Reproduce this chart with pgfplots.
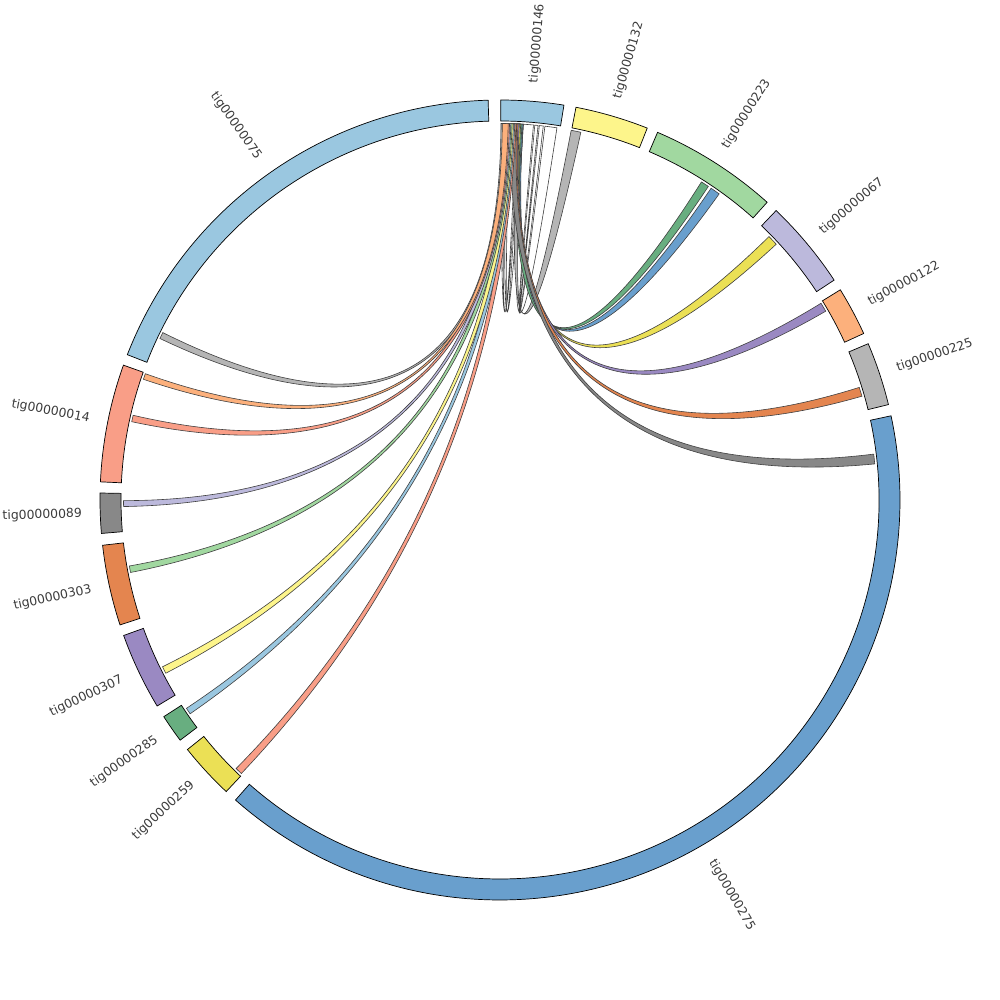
\documentclass[border=0pt]{standalone}
\usepackage{pgfplots}
\pgfplotsset{compat=1.18}
\usepackage{fontspec}
\newfontfamily\labfont{DejaVu Sans}

\definecolor{lblue}{HTML}{9AC7E0}
\definecolor{pyellow}{HTML}{FDF58B}
\definecolor{lgreen}{HTML}{A1D8A0}
\definecolor{lav}{HTML}{BCB9DC}
\definecolor{lorange}{HTML}{FCB07C}
\definecolor{lgray}{HTML}{B5B5B5}
\definecolor{sblue}{HTML}{699FCD}
\definecolor{mustard}{HTML}{EBE055}
\definecolor{mgreen}{HTML}{68AE80}
\definecolor{purp}{HTML}{9A89C2}
\definecolor{dorange}{HTML}{E4854F}
\definecolor{dgray}{HTML}{888888}
\definecolor{salmon}{HTML}{F99E87}
\definecolor{labgray}{HTML}{3C3C3C}

% ring segment: start angle, end angle, colour
\newcommand{\seg}[3]{%
 \filldraw[fill=#3, draw=black, line width=0.35pt]
 (axis cs:{400*cos(#1)},{400*sin(#1)}) arc[start angle=#1, end angle=#2, radius=200pt]
 -- (axis cs:{379*cos(#2)},{379*sin(#2)}) arc[start angle=#2, end angle=#1, radius=189.5pt] -- cycle;}

% ribbon: source lo, source hi, target lo, target hi, colour
\newcommand{\chord}[5]{%
 \filldraw[fill=#5, draw=black!75, line width=0.3pt]
 (axis cs:{376.5*cos(#1)},{376.5*sin(#1)}) arc[start angle=#1, end angle=#2, radius=188.25pt]
 .. controls (axis cs:{125.5*cos(#2)},{125.5*sin(#2)}) and (axis cs:{125.5*cos(#3)},{125.5*sin(#3)})
 .. (axis cs:{376.5*cos(#3)},{376.5*sin(#3)}) arc[start angle=#3, end angle=#4, radius=188.25pt]
 .. controls (axis cs:{125.5*cos(#4)},{125.5*sin(#4)}) and (axis cs:{125.5*cos(#1)},{125.5*sin(#1)})
 .. cycle;}

\newcommand{\labW}[2]{\node[anchor=west, rotate=#1, inner sep=0pt, text=labgray,
 font=\labfont\fontsize{6.2}{7}\selectfont] at (axis cs:{418*cos(#1)},{418*sin(#1)}) {#2};}
\newcommand{\labE}[3]{\node[anchor=east, rotate=#2, inner sep=0pt, text=labgray,
 font=\labfont\fontsize{6.2}{7}\selectfont] at (axis cs:{418*cos(#1)},{418*sin(#1)}) {#3};}

\begin{document}
\begin{tikzpicture}
\begin{axis}[x=0.5pt, y=0.5pt, xmin=-500, xmax=500, ymin=-500, ymax=500,
  hide axis, clip=false]
\addplot[draw=none] coordinates {(-500,-500) (500,500)};
% segments
\seg{80.8}{89.9}{lblue}
\seg{91.7}{158.7}{lblue}
\seg{160.3}{177.4}{salmon}
\seg{179.0}{184.8}{dgray}
\seg{186.5}{198.2}{dorange}
\seg{199.8}{211.0}{purp}
\seg{212.8}{216.9}{mgreen}
\seg{218.6}{226.8}{mustard}
\seg{228.6}{372.15}{sblue}
\seg{13.8}{23.0}{lgray}
\seg{24.6}{31.7}{lorange}
\seg{33.35}{46.35}{lav}
\seg{48.1}{66.8}{lgreen}
\seg{68.4}{79.05}{pyellow}
% self links on tig00000146
\chord{81.3}{83.15}{84.9}{86.45}{white}
\chord{83.4}{84.0}{84.2}{84.7}{white}
\chord{86.5}{87.0}{88.6}{89.1}{white}
\chord{87.2}{87.5}{89.4}{89.8}{white}
% links to tig00000146 (right-hand side)
\chord{86.45}{87.35}{77.6}{79.1}{lgray}
\chord{86.5}{87.4}{54.4}{55.9}{sblue}
\chord{86.65}{87.55}{56.4}{57.65}{mgreen}
\chord{86.85}{87.75}{42.8}{44.4}{mustard}
\chord{87.05}{87.95}{30.1}{31.5}{purp}
\chord{87.25}{88.15}{16.0}{17.4}{dorange}
\chord{87.45}{88.35}{5.5}{7.0}{dgray}
% links to tig00000146 (left-hand side)
\chord{87.55}{88.45}{225.5}{226.6}{salmon}
\chord{87.75}{88.65}{213.6}{214.6}{lblue}
\chord{87.95}{88.85}{206.3}{207.4}{pyellow}
\chord{88.15}{89.05}{190.1}{191.1}{lgreen}
\chord{88.35}{89.25}{180.1}{181.0}{lav}
\chord{88.95}{89.85}{153.6}{154.6}{lgray}
\chord{88.55}{89.45}{167.0}{168.0}{salmon}
\chord{88.75}{89.65}{160.4}{161.3}{lorange}
% labels
\labW{85.35}{tig00000146}
\labW{73.7}{tig00000132}
\labW{57.45}{tig00000223}
\labW{39.85}{tig00000067}
\labW{28.15}{tig00000122}
\labW{18.4}{tig00000225}
\labW{300.4}{tig00000275}
\labE{222.7}{42.7}{tig00000259}
\labE{214.85}{34.85}{tig00000285}
\labE{205.4}{25.4}{tig00000307}
\labE{192.35}{12.35}{tig00000303}
\labE{181.9}{1.9}{tig00000089}
\labE{168.85}{-11.15}{tig00000014}
\labE{125.2}{-54.8}{tig00000075}
\coordinate (BL) at (axis cs:-500,-500);
\coordinate (TR) at (axis cs:500,500);
\end{axis}
\pgfresetboundingbox
\path[use as bounding box] (BL) rectangle (TR);
\end{tikzpicture}
\end{document}
